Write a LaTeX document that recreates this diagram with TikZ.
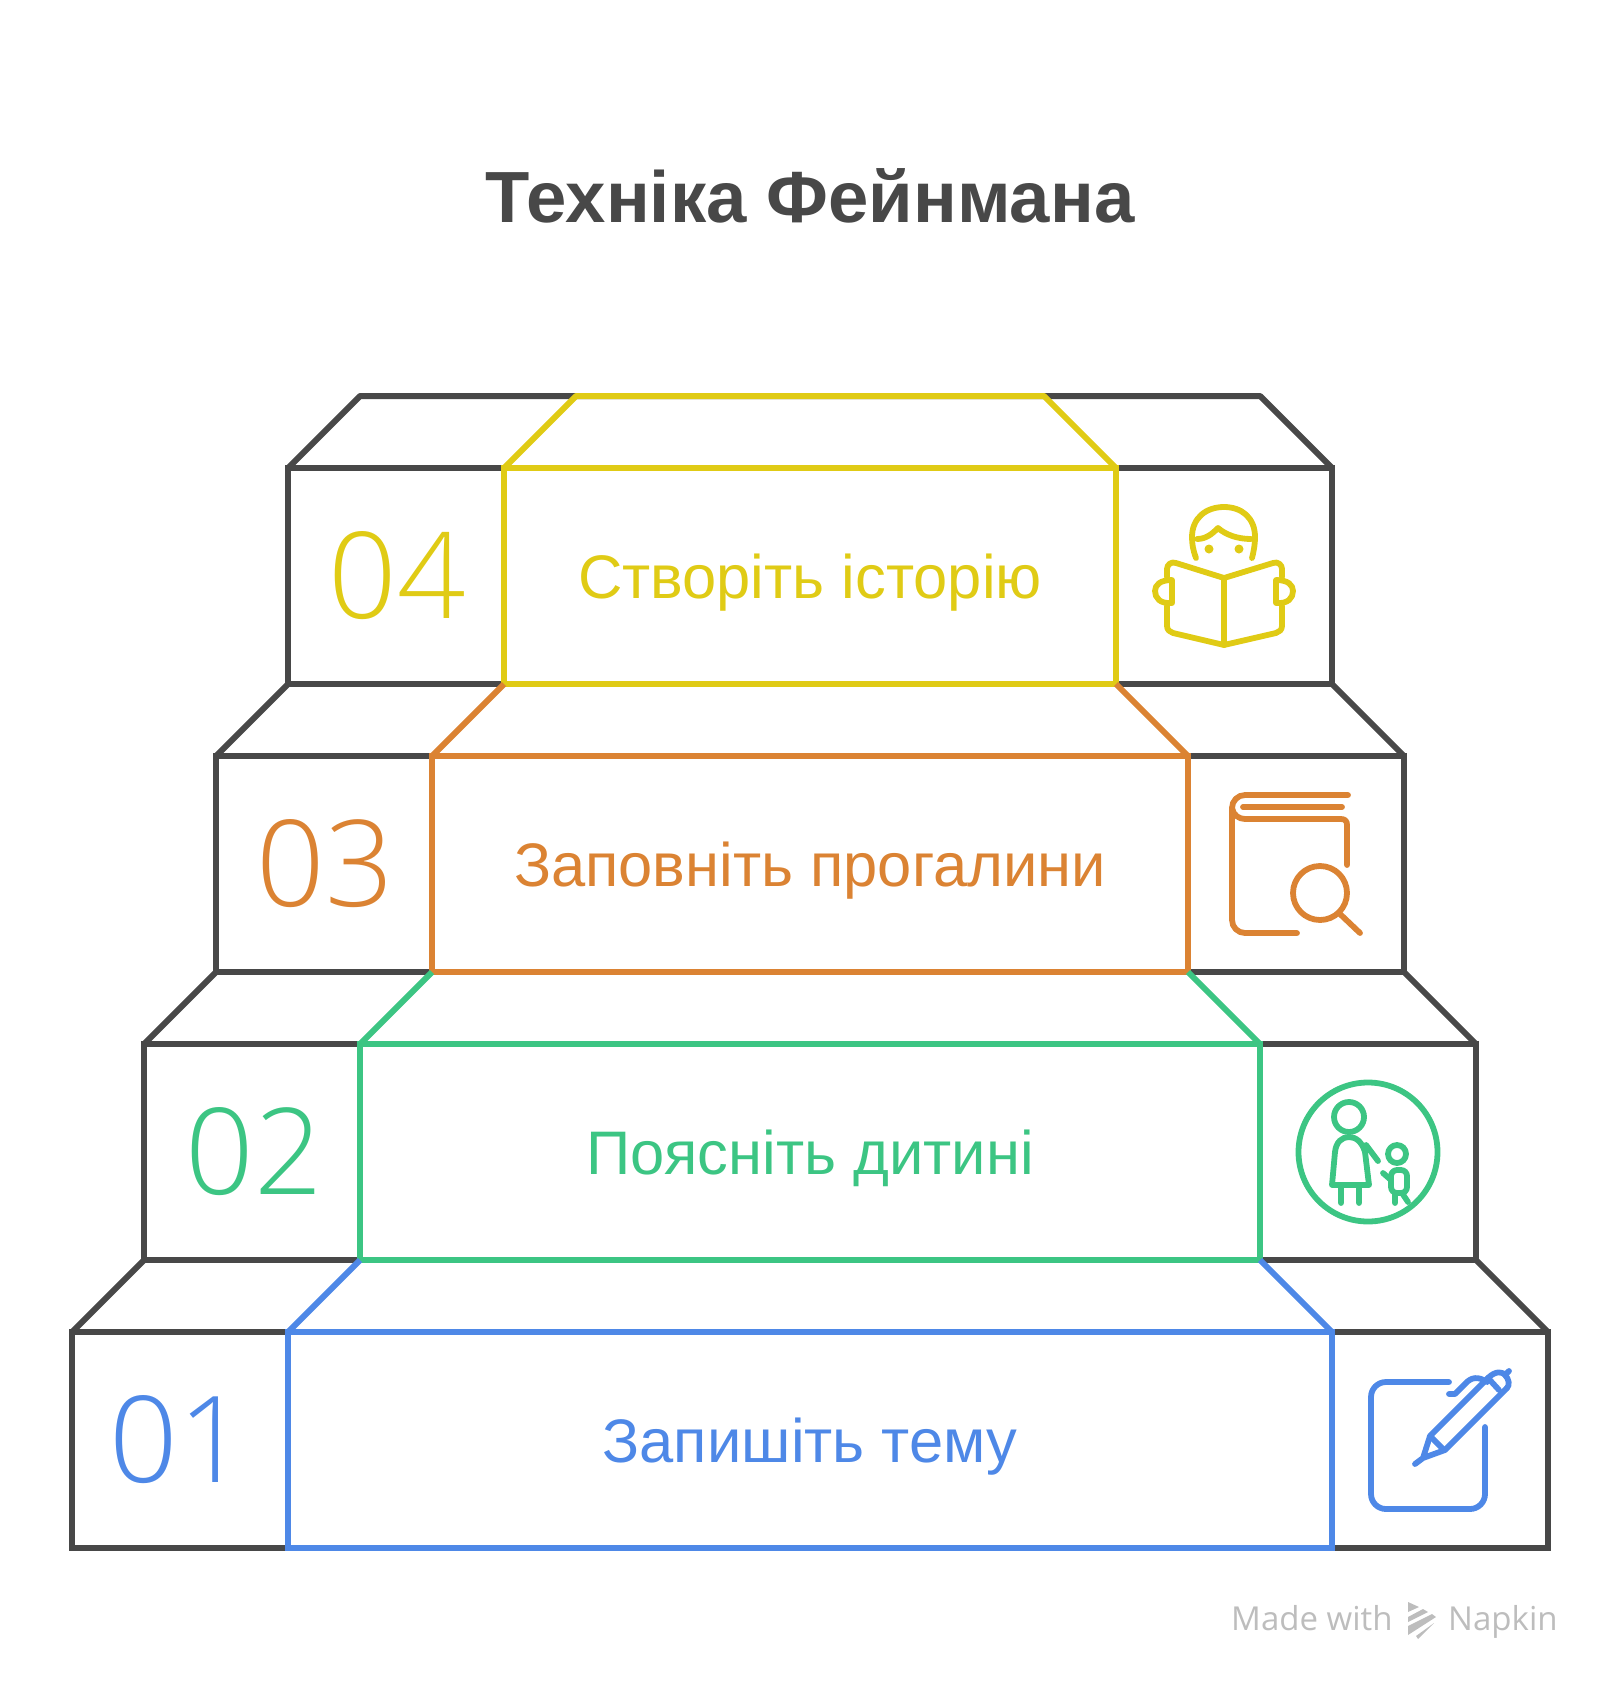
\documentclass[tikz,border=0pt]{standalone}
\usepackage{fontspec}
\setmainfont{Liberation Sans}
\newfontfamily\numfont{Open Sans Light}
\newfontfamily\footfont{Open Sans}
\definecolor{darkline}{HTML}{484848}
\definecolor{stepblue}{HTML}{4E88E7}
\definecolor{stepgreen}{HTML}{3CC583}
\definecolor{steporange}{HTML}{DB8333}
\definecolor{stepyellow}{HTML}{E0CB15}
\definecolor{footgrey}{HTML}{BDBDBD}
\tikzset{
    framebox/.style={draw=darkline, line width=6pt, minimum height=216pt, inner sep=0pt, outer sep=0pt},
    labelbox/.style={line width=6pt, minimum height=216pt, inner sep=0pt, outer sep=0pt},
    labeltext/.style={anchor=base, inner sep=0pt, font=\fontsize{61.5}{62}\selectfont},
    numlabel/.style={font=\numfont\fontsize{120}{120}\selectfont},
    icon/.style={line width=5.8pt, line cap=round, line join=round},
}
\begin{document}
\begin{tikzpicture}[x=1pt, y=-1pt]
\useasboundingbox (0,0) rectangle (1620,1692);
\node [font=\bfseries\fontsize{72.5}{73}\selectfont, text=darkline] (title) at (810,196) {Техніка Фейнмана};

\node [framebox, minimum width=1476pt] (frame1) at (810,1440) {};
\node [framebox, minimum width=1332pt] (frame2) at (810,1152) {};
\node [framebox, minimum width=1188pt] (frame3) at (810,864) {};
\node [framebox, minimum width=1044pt] (frame4) at (810,576) {};

\coordinate (top4l) at (360,396);
\coordinate (top4r) at (1260,396);
\draw [darkline, line width=6pt, line join=round] (frame4.north west) -- (top4l) -- (top4r) -- (frame4.north east);
\draw [darkline, line width=6pt] (frame4.south west) -- (frame3.north west) (frame4.south east) -- (frame3.north east);
\draw [darkline, line width=6pt] (frame3.south west) -- (frame2.north west) (frame3.south east) -- (frame2.north east);
\draw [darkline, line width=6pt] (frame2.south west) -- (frame1.north west) (frame2.south east) -- (frame1.north east);

\node [labelbox, draw=stepblue, minimum width=1044pt] (label1) at (810,1440) {};
\node [labelbox, draw=stepgreen, minimum width=900pt] (label2) at (810,1152) {};
\node [labelbox, draw=steporange, minimum width=756pt] (label3) at (810,864) {};
\node [labelbox, draw=stepyellow, minimum width=612pt] (label4) at (810,576) {};

\node [labeltext, text=stepblue] (text1) at (810,1462) {Запишіть тему};
\node [labeltext, text=stepgreen] (text2) at (810,1174) {Поясніть дитині};
\node [labeltext, text=steporange] (text3) at (810,886) {Заповніть прогалини};
\node [labeltext, text=stepyellow] (text4) at (810,598) {Створіть історію};

\coordinate (top4a) at (576,396);
\coordinate (top4b) at (1044,396);
\draw [stepyellow, line width=6pt, line join=round] (label4.north west) -- (top4a) -- (top4b) -- (label4.north east);
\draw [steporange, line width=6pt] (label4.south west) -- (label3.north west) (label4.south east) -- (label3.north east);
\draw [stepgreen, line width=6pt] (label3.south west) -- (label2.north west) (label3.south east) -- (label2.north east);
\draw [stepblue, line width=6pt] (label2.south west) -- (label1.north west) (label2.south east) -- (label1.north east);

\node [numlabel, text=stepblue] (num1) at (178,1440) {01};
\node [numlabel, text=stepgreen] (num2) at (254,1152) {02};
\node [numlabel, text=steporange] (num3) at (325,864) {03};
\node [numlabel, text=stepyellow] (num4) at (397,576) {04};

% pen and sheet
\draw [icon, stepblue, rounded corners=15pt] (1449,1382) -- (1371,1382) -- (1371,1509) -- (1485,1509) -- (1485,1427);
\draw [icon, stepblue] (1415,1464) -- (1423,1458) -- (1430,1436) -- (1488,1378) (1423,1458) -- (1445,1450) -- (1507,1388);
\draw [icon, stepblue] (1432,1438) -- (1443,1449) (1488,1378) -- (1499,1390);
\draw [icon, stepblue] (1488,1378) .. controls (1496,1370) and (1503,1372) .. (1505,1375) .. controls (1509,1379) and (1510,1385) .. (1507,1388) (1505,1375) -- (1509,1371);
\draw [icon, stepblue] (1449,1394) -- (1455,1394) -- (1465,1384) .. controls (1471,1377) and (1478,1376) .. (1487,1382);

% parent and child
\draw [icon, stepgreen] (1368,1152) circle (69.5);
\draw [icon, stepgreen] (1349,1117) circle (15);
\draw [icon, stepgreen] (1332,1185) -- (1335,1152) .. controls (1336,1142) and (1342,1137) .. (1349,1137) .. controls (1356,1137) and (1362,1142) .. (1365,1152) -- (1369,1185) -- cycle;
\draw [icon, stepgreen] (1341,1187) -- (1341,1203) (1359,1187) -- (1359,1203) (1366,1145) -- (1378,1161);
\draw [icon, stepgreen] (1397,1154) circle (9);
\draw [icon, stepgreen, rounded corners=6pt] (1391,1170) rectangle (1407,1193);
\draw [icon, stepgreen] (1383,1173) -- (1391,1180) (1395,1193) -- (1395,1203) (1402,1193) -- (1408,1202);

% book and lens
\draw [icon, steporange, rounded corners=13pt] (1348,795) -- (1232,795) -- (1232,933) -- (1297,933);
\draw [icon, steporange] (1243,807) -- (1342,807);
\draw [icon, steporange] (1232,808) .. controls (1233,815) and (1239,819) .. (1245,819) -- (1341,819) .. controls (1345,819) and (1347,821) .. (1347,825) -- (1347,865);
\draw [icon, steporange] (1320,893) circle (27);
\draw [icon, steporange] (1340,914) -- (1360,933);

% reading person
\draw [icon, stepyellow] (1196,558) .. controls (1193,550) and (1192,544) .. (1192,537) .. controls (1192,518) and (1206,507) .. (1224,507) .. controls (1242,507) and (1255,518) .. (1255,537) .. controls (1255,544) and (1254,550) .. (1252,558);
\draw [icon, stepyellow] (1197,539) .. controls (1206,539) and (1212,534) .. (1218,528) .. controls (1226,535) and (1238,539) .. (1251,539);
\fill [stepyellow] (1209,549) circle (4.5) (1239,549) circle (4.5);
\draw [icon, stepyellow] (1167,577) -- (1167,569) .. controls (1167,565) and (1171,561) .. (1176,563) -- (1224,578) -- (1273,563) .. controls (1278,561) and (1282,565) .. (1282,569) -- (1282,577);
\draw [icon, stepyellow] (1167,606) -- (1167,626) .. controls (1167,630) and (1170,632) .. (1173,633) -- (1224,645) -- (1276,633) .. controls (1279,632) and (1282,630) .. (1282,626) -- (1282,606);
\draw [icon, stepyellow] (1224,578) -- (1224,645);
\draw [icon, stepyellow] (1172,580) -- (1172,603) .. controls (1160,604) and (1155,598) .. (1155,591) .. controls (1155,585) and (1160,580) .. (1172,580) -- cycle;
\draw [icon, stepyellow] (1276,580) -- (1276,603) .. controls (1288,604) and (1293,598) .. (1293,591) .. controls (1293,585) and (1288,580) .. (1276,580) -- cycle;

% footer
\node [font=\footfont\fontsize{33}{33}\selectfont, text=footgrey, anchor=base west, inner sep=0pt] (madewith) at (1231,1630) {Made with};
\node [font=\footfont\fontsize{33}{33}\selectfont, text=footgrey, anchor=base west, inner sep=0pt] (napkin) at (1448,1630) {Napkin};
\fill [footgrey] (1408,1602) -- (1419,1607) -- (1408,1612) -- cycle (1408,1617) -- (1423,1609) -- (1428,1612) -- (1408,1622) -- cycle (1408,1626) -- (1432,1614) -- (1436,1617) -- (1408,1635) -- cycle (1416,1636) -- (1434,1623) -- (1418,1639) -- cycle;
\end{tikzpicture}
\end{document}
